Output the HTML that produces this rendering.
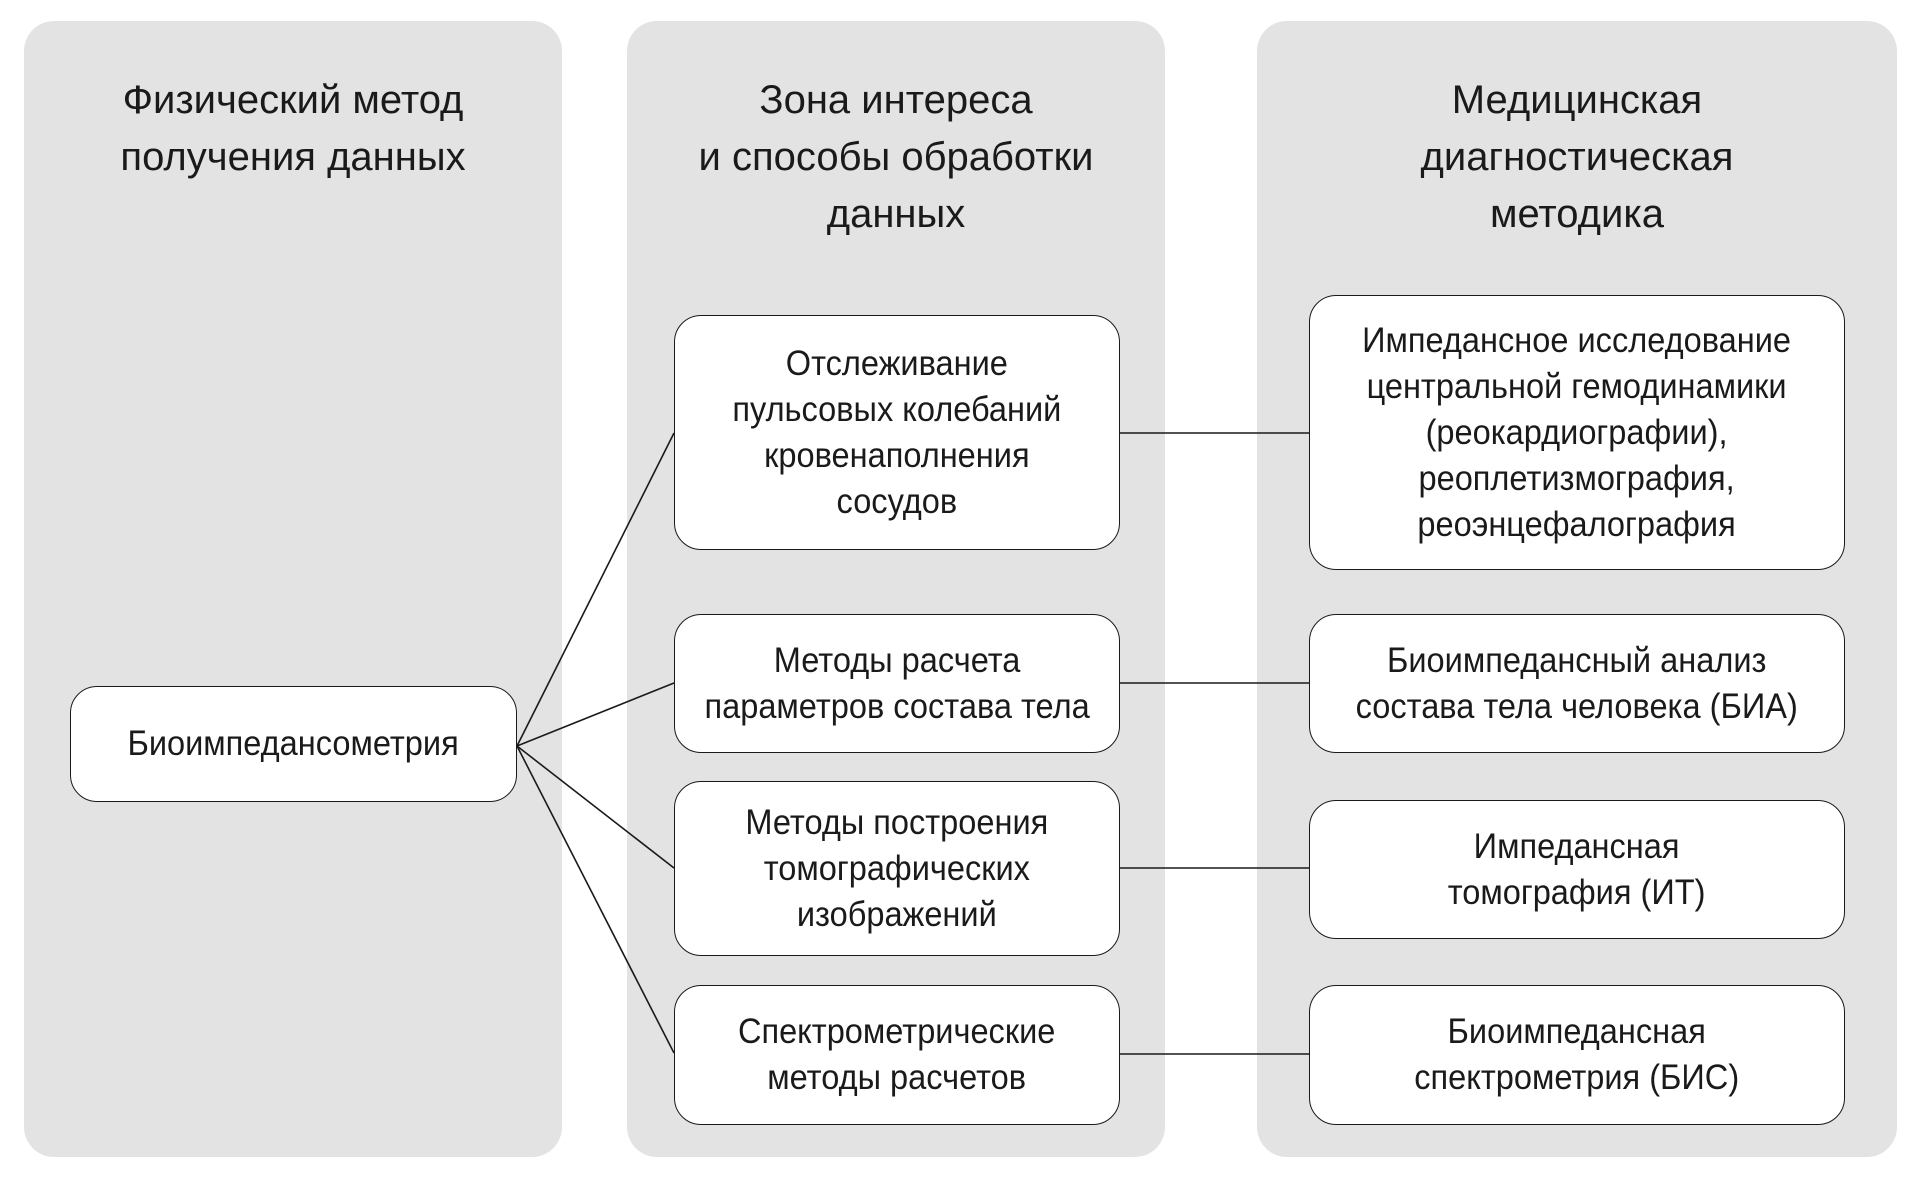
<!DOCTYPE html>
<html><head><meta charset="utf-8"><style>
body{margin:0;width:1917px;height:1177px;background:#fff;position:relative;overflow:hidden;font-family:"Liberation Sans",sans-serif;color:#1a1a1a}
.col{position:absolute;top:21px;height:1136px;background:#e3e3e3;border-radius:30px}
.h{position:absolute;text-align:center;font-size:40px;line-height:57px}
.b{position:absolute;background:#fff;border:1.6px solid #1a1a1a;border-radius:27px;display:flex;align-items:center;justify-content:center;text-align:center;font-size:35px;line-height:46px;box-sizing:border-box}
.b span{display:inline-block;transform:scaleX(0.93);white-space:nowrap}
svg{position:absolute;left:0;top:0}
</style></head><body>
<div class="col" style="left:24px;width:538px"></div>
<div class="col" style="left:627px;width:538px"></div>
<div class="col" style="left:1257px;width:640px"></div>
<div class="h" style="left:24px;width:538px;top:72px">Физический метод<br>получения данных</div>
<div class="h" style="left:627px;width:538px;top:72px">Зона интереса<br>и способы обработки<br>данных</div>
<div class="h" style="left:1257px;width:640px;top:72px">Медицинская<br>диагностическая<br>методика</div>
<svg width="1917" height="1177"><g stroke="#1a1a1a" stroke-width="1.6" fill="none">
<line x1="517" y1="746" x2="674" y2="433"/><line x1="517" y1="746" x2="674" y2="683"/>
<line x1="517" y1="746" x2="674" y2="868"/><line x1="517" y1="746" x2="674" y2="1053"/>
<line x1="1120" y1="433" x2="1309" y2="433"/><line x1="1120" y1="683" x2="1309" y2="683"/>
<line x1="1120" y1="868" x2="1309" y2="868"/><line x1="1120" y1="1054" x2="1309" y2="1054"/>
</g></svg>
<div class="b" style="left:70px;top:686px;width:447px;height:116px"><span>Биоимпедансометрия</span></div>
<div class="b" style="left:674px;top:315px;width:446px;height:235px"><span>Отслеживание<br>пульсовых колебаний<br>кровенаполнения<br>сосудов</span></div>
<div class="b" style="left:674px;top:614px;width:446px;height:139px"><span>Методы расчета<br>параметров состава тела</span></div>
<div class="b" style="left:674px;top:781px;width:446px;height:175px"><span>Методы построения<br>томографических<br>изображений</span></div>
<div class="b" style="left:674px;top:985px;width:446px;height:140px"><span>Спектрометрические<br>методы расчетов</span></div>
<div class="b" style="left:1309px;top:295px;width:536px;height:275px"><span>Импедансное исследование<br>центральной гемодинамики<br>(реокардиографии),<br>реоплетизмография,<br>реоэнцефалография</span></div>
<div class="b" style="left:1309px;top:614px;width:536px;height:139px"><span>Биоимпедансный анализ<br>состава тела человека (БИА)</span></div>
<div class="b" style="left:1309px;top:800px;width:536px;height:139px"><span>Импедансная<br>томография (ИТ)</span></div>
<div class="b" style="left:1309px;top:985px;width:536px;height:140px"><span>Биоимпедансная<br>спектрометрия (БИС)</span></div>
</body></html>
